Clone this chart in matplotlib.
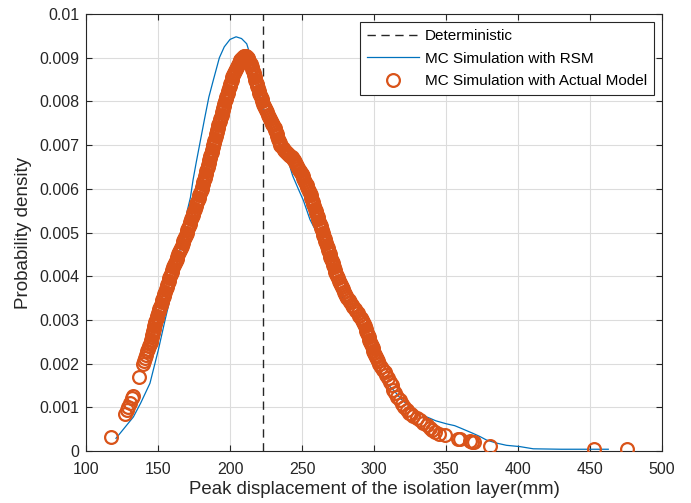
import matplotlib
matplotlib.use("Agg")
import matplotlib.pyplot as plt

plt.rcParams['font.family'] = ['Liberation Sans', 'DejaVu Sans']

# ---- data ----
deterministic_x = 222.7

rsm_x = [120.8, 126.0, 132.9, 138.0, 144.4, 150.2, 154.9, 158.5, 161.8, 164.7,
         167.6, 170.3, 172.5, 174.3, 176.5, 179.4, 182.3, 185.3, 188.5, 192.6,
         196.0, 200.0, 204.2, 208.0, 211.6, 214.6, 218.5, 221.5, 227.0, 233.0,
         239.4, 243.5, 247.4, 250.9, 255.5, 260.2, 264.8, 268.0, 271.5, 275.0,
         280.0, 285.0, 289.5, 292.6, 296.0, 300.7, 306.5, 313.4, 319.0, 325.0,
         330.5, 336.6, 343.0, 350.5, 356.0, 359.7, 364.0, 369.0, 373.6, 378.2,
         385.2, 392.0, 401.4, 410.6, 430.0, 462.7]
rsm_y = [0.00029, 0.00050, 0.00078, 0.00110, 0.00155, 0.00231, 0.00300, 0.00350, 0.00400, 0.00450,
         0.00500, 0.00550, 0.00580, 0.00620, 0.00660, 0.00710, 0.00760, 0.00810, 0.00850, 0.00900,
         0.00925, 0.00942, 0.00948, 0.00944, 0.00932, 0.00900, 0.00860, 0.00800, 0.00750, 0.00710,
         0.00675, 0.00630, 0.00600, 0.00574, 0.00530, 0.00500, 0.00460, 0.00430, 0.00400, 0.00370,
         0.00340, 0.00310, 0.00292, 0.00260, 0.00230, 0.00193, 0.00162, 0.00140, 0.00118, 0.00101,
         0.00088, 0.00078, 0.00069, 0.00062, 0.00058, 0.00053, 0.00047, 0.00040, 0.00033, 0.00025,
         0.00018, 0.00013, 0.00010, 0.00005, 0.00004, 0.00004]

actual_x = [117.4, 127.1, 128.2, 129.4, 130.6, 131.7, 132.5, 137.0, 139.3, 140.2,
            140.8, 141.5, 142.3, 142.8, 144.0, 144.4, 144.8, 145.2, 145.5, 145.9, 146.3, 146.7, 147.1, 147.5, 147.8, 148.2,
            148.6, 149.1, 149.6, 150.0, 150.5, 151.0, 151.5, 152.0, 152.5, 153.0, 153.5, 154.0, 154.4, 154.9, 155.4, 155.9, 156.4, 156.8, 157.3, 157.8,
            158.3, 158.9, 159.5, 160.0, 160.6, 161.2, 161.8, 162.3, 162.9, 163.5, 164.1, 164.7, 165.3, 165.8, 166.4, 167.0, 167.6, 168.1, 168.7, 169.3,
            169.9, 170.4, 170.9, 171.5, 172.0, 172.5, 173.0, 173.6, 174.1, 174.6, 175.1, 175.6, 176.1, 176.7, 177.2, 177.7, 178.2, 178.8, 179.3, 179.8,
            180.3, 180.7, 181.1, 181.5, 181.9, 182.3, 182.7, 183.1, 183.5, 184.0, 184.4, 184.8, 185.2, 185.6, 186.0, 186.4, 186.8, 187.2, 187.6, 188.0,
            188.4, 188.8, 189.2, 189.6, 190.0, 190.4, 190.8, 191.2, 191.6, 192.0, 192.5, 192.9, 193.3, 193.7, 194.1, 194.5, 194.9, 195.3, 195.7, 196.1,
            196.5, 197.0, 197.4, 197.9, 198.3, 198.8, 199.2, 199.7, 200.2, 200.7, 201.2, 201.7, 202.3, 202.9, 203.5, 204.1, 204.8, 205.4, 206.0, 206.6,
            207.2, 207.8, 208.5, 209.1, 209.8, 210.4, 211.0, 211.6, 212.3, 212.8, 213.4, 213.9, 214.4, 215.0, 215.5, 215.9, 216.4, 216.8,
            217.2, 217.6, 218.0, 218.5, 219.0, 219.4, 219.8, 220.2, 220.7, 221.3, 221.9, 222.5, 223.0, 223.6, 224.2, 224.9, 225.5, 226.1, 226.8, 227.5,
            228.2, 229.0, 229.5, 230.1, 230.5, 231.0, 231.4, 231.8, 232.3, 232.9, 233.4, 233.9, 234.4, 235.0, 235.7, 236.5, 237.2, 238.0, 238.7, 239.5,
            240.2, 241.0, 241.9, 242.8, 243.6, 244.5, 245.2, 246.0, 246.7, 247.5, 248.1, 248.8, 249.3, 249.8, 250.4, 251.0, 251.6, 252.2, 252.7, 253.3,
            253.8, 254.4, 254.9, 255.4, 255.9, 256.4, 256.9, 257.4, 257.9, 258.4, 258.9, 259.4, 259.9, 260.4, 260.9, 261.4, 261.9, 262.4, 262.9, 263.4,
            263.9, 264.4, 264.9, 265.4, 265.8, 266.3, 266.8, 267.3, 267.8, 268.3, 268.8, 269.3, 269.7, 270.2, 270.7, 271.2, 271.7, 272.2, 272.6, 273.1,
            273.6, 274.1, 274.8, 275.6, 276.3, 277.0, 277.8, 278.5, 279.2, 280.0, 280.7, 281.4, 282.4, 283.4, 284.4, 285.5, 286.5, 287.6, 288.7, 289.8,
            290.9, 292.0, 292.5, 293.1, 293.6, 294.2, 294.7, 295.2, 295.7, 296.2, 296.8, 297.4, 298.0, 298.5, 299.0, 299.6, 300.1, 300.7, 301.2, 301.8,
            302.6, 303.5, 305.0, 306.5, 307.6, 308.5, 309.5, 311.1, 312.2, 313.4, 314.6,
            316.3, 318.1, 319.5, 321.0, 322.7, 324.5, 325.6, 327.3, 329.6, 331.9,
            334.0, 336.6, 338.9, 340.5, 342.4, 345.0, 349.3, 358.6, 359.7, 366.5,
            367.8, 369.4, 380.6, 453.0, 475.5]
actual_y = [0.00033, 0.00085, 0.00094, 0.00101, 0.00109, 0.00121, 0.00125, 0.00169, 0.00198, 0.00205,
            0.00212, 0.00220, 0.00228, 0.00233, 0.00240, 0.00245, 0.00250, 0.00255, 0.00260, 0.00265, 0.00270, 0.00275, 0.00280, 0.00285, 0.00290, 0.00295,
            0.00300, 0.00305, 0.00310, 0.00315, 0.00320, 0.00325, 0.00330, 0.00335, 0.00340, 0.00345, 0.00350, 0.00355, 0.00360, 0.00365, 0.00370, 0.00375, 0.00380, 0.00385, 0.00390, 0.00395,
            0.00400, 0.00405, 0.00410, 0.00415, 0.00420, 0.00425, 0.00430, 0.00435, 0.00440, 0.00445, 0.00450, 0.00455, 0.00460, 0.00465, 0.00470, 0.00475, 0.00480, 0.00485, 0.00490, 0.00495,
            0.00500, 0.00505, 0.00510, 0.00515, 0.00520, 0.00525, 0.00530, 0.00535, 0.00540, 0.00545, 0.00550, 0.00555, 0.00560, 0.00565, 0.00570, 0.00575, 0.00580, 0.00585, 0.00590, 0.00595,
            0.00600, 0.00605, 0.00610, 0.00615, 0.00620, 0.00625, 0.00630, 0.00635, 0.00640, 0.00645, 0.00650, 0.00655, 0.00660, 0.00665, 0.00670, 0.00675, 0.00680, 0.00685, 0.00690, 0.00695,
            0.00700, 0.00705, 0.00710, 0.00715, 0.00720, 0.00725, 0.00730, 0.00735, 0.00740, 0.00745, 0.00750, 0.00755, 0.00760, 0.00765, 0.00770, 0.00775, 0.00780, 0.00785, 0.00790, 0.00795,
            0.00800, 0.00805, 0.00810, 0.00815, 0.00820, 0.00825, 0.00830, 0.00835, 0.00840, 0.00845, 0.00850, 0.00855, 0.00860, 0.00865, 0.00870, 0.00875, 0.00880, 0.00884, 0.00888, 0.00892,
            0.00895, 0.00898, 0.00900, 0.00902, 0.00903, 0.00904, 0.00903, 0.00902, 0.00900, 0.00897, 0.00893, 0.00889, 0.00885, 0.00880, 0.00875, 0.00870, 0.00865, 0.00860,
            0.00855, 0.00850, 0.00845, 0.00840, 0.00835, 0.00830, 0.00825, 0.00820, 0.00815, 0.00810, 0.00805, 0.00800, 0.00795, 0.00790, 0.00785, 0.00780, 0.00775, 0.00770, 0.00765, 0.00760,
            0.00755, 0.00750, 0.00748, 0.00745, 0.00742, 0.00740, 0.00735, 0.00730, 0.00725, 0.00720, 0.00715, 0.00710, 0.00705, 0.00700, 0.00697, 0.00693, 0.00690, 0.00687, 0.00685, 0.00682,
            0.00680, 0.00677, 0.00675, 0.00672, 0.00669, 0.00665, 0.00661, 0.00657, 0.00653, 0.00648, 0.00644, 0.00640, 0.00637, 0.00634, 0.00630, 0.00625, 0.00620, 0.00616, 0.00612, 0.00608,
            0.00604, 0.00600, 0.00595, 0.00590, 0.00585, 0.00580, 0.00575, 0.00570, 0.00565, 0.00560, 0.00555, 0.00550, 0.00545, 0.00540, 0.00535, 0.00530, 0.00525, 0.00520, 0.00515, 0.00510,
            0.00505, 0.00500, 0.00495, 0.00490, 0.00485, 0.00480, 0.00475, 0.00470, 0.00465, 0.00460, 0.00455, 0.00450, 0.00445, 0.00440, 0.00435, 0.00430, 0.00425, 0.00420, 0.00415, 0.00410,
            0.00405, 0.00400, 0.00395, 0.00390, 0.00385, 0.00380, 0.00375, 0.00370, 0.00365, 0.00360, 0.00355, 0.00350, 0.00345, 0.00340, 0.00335, 0.00330, 0.00325, 0.00320, 0.00315, 0.00310,
            0.00305, 0.00300, 0.00295, 0.00290, 0.00285, 0.00280, 0.00275, 0.00270, 0.00265, 0.00260, 0.00255, 0.00250, 0.00245, 0.00240, 0.00235, 0.00230, 0.00225, 0.00220, 0.00215, 0.00210,
            0.00205, 0.00200, 0.00192, 0.00185, 0.00181, 0.00174, 0.00168, 0.00159, 0.00150, 0.00140, 0.00132,
            0.00124, 0.00117, 0.00108, 0.00101, 0.00094, 0.00088, 0.00084, 0.00080, 0.00075, 0.00071,
            0.00065, 0.00059, 0.00053, 0.00049, 0.00044, 0.00040, 0.00037, 0.00027, 0.00027, 0.00022,
            0.00021, 0.00020, 0.00011, 0.00004, 0.00004]

x_ticks = [100, 150, 200, 250, 300, 350, 400, 450, 500]
y_ticks = [0, 0.001, 0.002, 0.003, 0.004, 0.005, 0.006, 0.007, 0.008, 0.009, 0.01]
y_tick_labels = ['0', '0.001', '0.002', '0.003', '0.004', '0.005',
                 '0.006', '0.007', '0.008', '0.009', '0.01']

# ---- plotting ----
fig = plt.figure(figsize=(6.91, 5.03), dpi=100)
ax = fig.add_axes([0.1245, 0.1034, 0.8335, 0.8686])

blue = '#0072BD'
orange = '#D95319'

ax.axvline(deterministic_x, color='#262626', lw=1.0, ls=(0, (6, 4)),
           label='Deterministic', zorder=2)
ax.plot(rsm_x, rsm_y, color=blue, lw=0.9, label='MC Simulation with RSM', zorder=3)
ax.plot(actual_x, actual_y, ls='none', marker='o', ms=9.2, mfc='none',
        mec=orange, mew=1.6, label='MC Simulation with Actual Model', zorder=4)

ax.set_xlim(100, 500)
ax.set_ylim(0, 0.01)
ax.set_xticks(x_ticks)
ax.set_yticks(y_ticks)
ax.set_yticklabels(y_tick_labels)

ax.grid(True, color='#dcdcdc', lw=0.8)
ax.set_axisbelow(True)
for s in ax.spines.values():
    s.set_color('#262626')
    s.set_linewidth(0.8)
ax.tick_params(direction='in', top=True, right=True, length=4, width=0.8,
               colors='#262626', labelsize=11.5, labelcolor='#262626')
ax.tick_params(axis='x', pad=8)
ax.tick_params(axis='y', pad=5)

ax.set_xlabel('Peak displacement of the isolation layer(mm)', fontsize=13.4, color='#262626', labelpad=3)
ax.set_ylabel('Probability density', fontsize=13.6, color='#262626', labelpad=5)

leg = ax.legend(loc='upper right', fontsize=11, frameon=True, fancybox=False,
                edgecolor='#262626', framealpha=1, handlelength=3.4,
                borderaxespad=0.55, borderpad=0.45, labelspacing=0.55, handletextpad=0.35)
leg.get_frame().set_linewidth(0.8)

fig.savefig('out.png', dpi=100)
